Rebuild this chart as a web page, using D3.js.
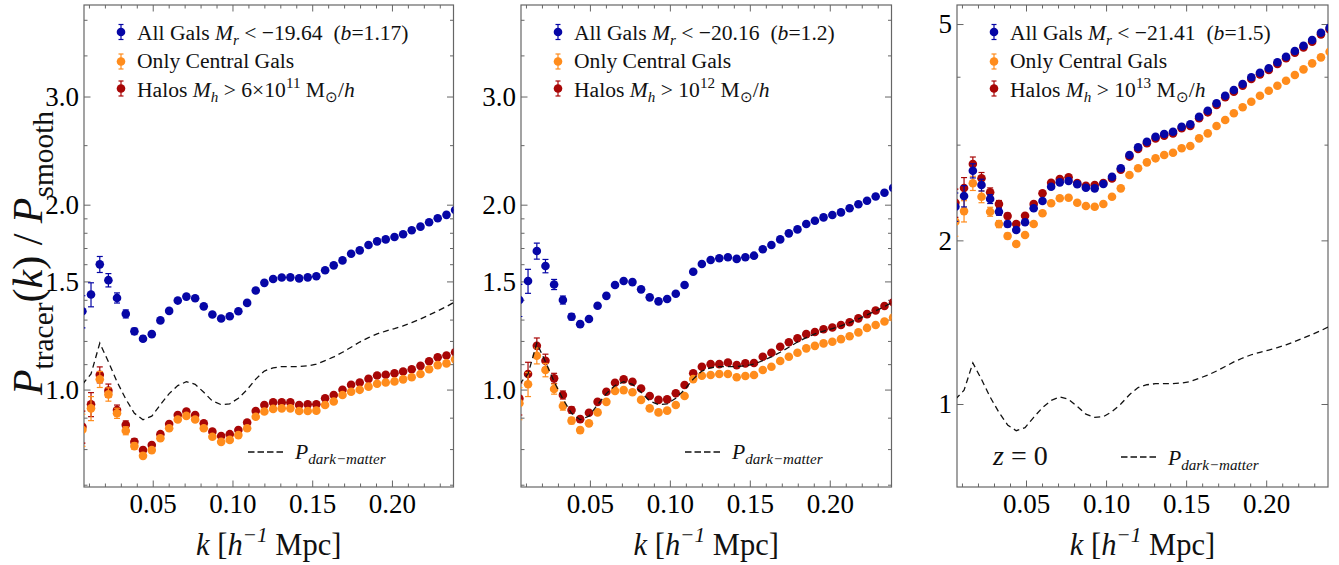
<!DOCTYPE html>
<html>
<head>
<meta charset="utf-8">
<script src="https://cdn.jsdelivr.net/npm/d3@7"></script>
<style>
  html, body { margin: 0; padding: 0; background: #fff; }
  svg { display: block; }
  text { white-space: pre; }
</style>
</head>
<body>
<svg id="chart" width="1339" height="565"></svg>
<script>
// ---- data -------------------------------------------------------------
// k bins [h/Mpc]
const kBins = [0.0059, 0.0113, 0.0168, 0.0222, 0.0276, 0.0331, 0.0385, 0.0439, 0.0494, 0.0548,
               0.0603, 0.0657, 0.0711, 0.0766, 0.0820, 0.0874, 0.0929, 0.0983, 0.1037, 0.1092,
               0.1146, 0.1200, 0.1255, 0.1309, 0.1363, 0.1418, 0.1472, 0.1526, 0.1581, 0.1635,
               0.1690, 0.1744, 0.1798, 0.1853, 0.1907, 0.1961, 0.2016, 0.2070, 0.2124, 0.2179,
               0.2233, 0.2287, 0.2342, 0.2396];

// relative 1-sigma error of the ratio in each k bin
const relErr = [0.060, 0.045, 0.030, 0.025, 0.019, 0.015, 0.012, 0.010, 0.008, 0.007,
                0.006, 0.005, 0.005, 0.004, 0.004, 0.004, 0.003, 0.003, 0.003, 0.003,
                0.003, 0.003, 0.002, 0.002, 0.002, 0.002, 0.002, 0.002, 0.002, 0.002,
                0.002, 0.002, 0.002, 0.002, 0.002, 0.002, 0.002, 0.002, 0.002, 0.002,
                0.002, 0.002, 0.002, 0.002];

// dark-matter ratio P_dm / P_smooth
const ratioDM = [1.02, 1.06, 1.19, 1.11, 1.03, 0.965, 0.915, 0.893, 0.905, 0.945,
                 0.985, 1.015, 1.03, 1.02, 0.99, 0.958, 0.945, 0.948, 0.968, 1.0,
                 1.04, 1.072, 1.085, 1.09, 1.09, 1.09, 1.093, 1.10, 1.115, 1.13,
                 1.15, 1.172, 1.195, 1.215, 1.232, 1.245, 1.257, 1.27, 1.285, 1.303,
                 1.323, 1.343, 1.365, 1.39];

// M_r < -19.64 sample
const allGals1 = [1.341, 1.428, 1.599, 1.507, 1.410, 1.328, 1.244, 1.210, 1.231, 1.296,
                  1.343, 1.396, 1.417, 1.408, 1.366, 1.325, 1.305, 1.316, 1.341, 1.384,
                  1.450, 1.492, 1.514, 1.522, 1.523, 1.517, 1.523, 1.529, 1.564, 1.593,
                  1.623, 1.664, 1.685, 1.719, 1.743, 1.756, 1.772, 1.790, 1.817, 1.842,
                  1.872, 1.901, 1.925, 1.960];
const centrals1 = [0.860, 0.932, 1.039, 0.982, 0.915, 0.857, 0.809, 0.780, 0.797, 0.833,
                   0.865, 0.894, 0.906, 0.894, 0.865, 0.838, 0.822, 0.828, 0.843, 0.865,
                   0.903, 0.921, 0.930, 0.932, 0.932, 0.923, 0.923, 0.924, 0.944, 0.956,
                   0.980, 0.992, 0.999, 1.011, 1.022, 1.027, 1.031, 1.039, 1.047, 1.060,
                   1.079, 1.096, 1.103, 1.120];
const halos1 = [0.870, 0.946, 1.057, 0.996, 0.926, 0.876, 0.822, 0.797, 0.812, 0.846,
                0.879, 0.909, 0.921, 0.909, 0.881, 0.854, 0.840, 0.846, 0.859, 0.884,
                0.923, 0.944, 0.953, 0.953, 0.953, 0.944, 0.946, 0.946, 0.968, 0.980,
                0.999, 1.018, 1.027, 1.041, 1.054, 1.057, 1.063, 1.070, 1.079, 1.093,
                1.112, 1.129, 1.136, 1.150];

// M_r < -20.16 sample
const allGals2 = [1.399, 1.502, 1.681, 1.589, 1.483, 1.399, 1.314, 1.278, 1.303, 1.369,
                  1.421, 1.480, 1.502, 1.496, 1.456, 1.413, 1.392, 1.404, 1.432, 1.480,
                  1.555, 1.601, 1.625, 1.636, 1.642, 1.632, 1.642, 1.652, 1.692, 1.719,
                  1.756, 1.796, 1.823, 1.860, 1.883, 1.907, 1.924, 1.943, 1.973, 2.003,
                  2.030, 2.062, 2.092, 2.130];
const centrals2 = [0.950, 1.020, 1.135, 1.076, 1.002, 0.940, 0.890, 0.859, 0.881, 0.918,
                   0.955, 0.995, 0.998, 0.990, 0.962, 0.932, 0.918, 0.924, 0.944, 0.976,
                   1.040, 1.053, 1.056, 1.060, 1.060, 1.047, 1.052, 1.056, 1.076, 1.089,
                   1.113, 1.131, 1.148, 1.167, 1.178, 1.189, 1.196, 1.208, 1.221, 1.239,
                   1.260, 1.274, 1.291, 1.310];
const halos2 = [0.967, 1.060, 1.178, 1.114, 1.043, 0.980, 0.926, 0.895, 0.917, 0.955,
                0.992, 1.026, 1.039, 1.030, 1.004, 0.976, 0.962, 0.964, 0.986, 1.017,
                1.063, 1.089, 1.100, 1.100, 1.107, 1.096, 1.103, 1.105, 1.131, 1.148,
                1.174, 1.194, 1.212, 1.231, 1.241, 1.254, 1.262, 1.274, 1.287, 1.306,
                1.327, 1.345, 1.368, 1.387];

// M_r < -21.41 sample
const allGals3 = [2.306, 2.413, 2.686, 2.528, 2.383, 2.258, 2.143, 2.090, 2.159, 2.291,
                  2.363, 2.510, 2.557, 2.572, 2.536, 2.500, 2.493, 2.539, 2.619, 2.714,
                  2.871, 2.966, 3.037, 3.102, 3.138, 3.169, 3.237, 3.270, 3.377, 3.464,
                  3.574, 3.691, 3.781, 3.878, 3.990, 4.068, 4.145, 4.252, 4.354, 4.460,
                  4.561, 4.672, 4.819, 4.922];
const centrals3 = [2.165, 2.264, 2.547, 2.406, 2.258, 2.143, 2.037, 1.969, 2.046, 2.143,
                   2.243, 2.340, 2.390, 2.396, 2.346, 2.313, 2.306, 2.333, 2.406, 2.493,
                   2.638, 2.714, 2.783, 2.831, 2.871, 2.899, 2.954, 2.983, 3.081, 3.147,
                   3.246, 3.330, 3.426, 3.514, 3.598, 3.691, 3.770, 3.850, 3.933, 4.029,
                   4.127, 4.233, 4.342, 4.447];
const halos3 = [2.345, 2.497, 2.764, 2.601, 2.451, 2.333, 2.217, 2.143, 2.220, 2.333,
                2.441, 2.553, 2.594, 2.612, 2.550, 2.521, 2.528, 2.550, 2.600, 2.697,
                2.852, 2.946, 3.017, 3.080, 3.117, 3.147, 3.215, 3.248, 3.354, 3.440,
                3.550, 3.666, 3.755, 3.852, 3.963, 4.040, 4.117, 4.223, 4.325, 4.430,
                4.530, 4.640, 4.786, 4.888];

// ticks
const xMajorTicks = [0.05, 0.10, 0.15, 0.20];
const xMinorTicks = [0.01, 0.02, 0.03, 0.04, 0.06, 0.07, 0.08, 0.09, 0.11, 0.12, 0.13, 0.14,
                     0.16, 0.17, 0.18, 0.19, 0.21, 0.22, 0.23];
const yMajorTicksLow = [1.0, 1.5, 2.0, 3.0];
const yMinorTicksLow = [0.7, 0.8, 0.9, 1.1, 1.2, 1.3, 1.4, 1.6, 1.7, 1.8, 1.9, 2.5, 3.5, 4.0];
const yMajorTicksHigh = [1, 2, 5];
const yMinorTicksHigh = [3, 4];

// ---- fonts: use the first installed Times-like face ---------------------
function pickFont(candidates) {
  const ctx = document.createElement("canvas").getContext("2d");
  const probe = "AaGgMmWwQq0123456789.()/";
  const width = f => { ctx.font = "40px " + f; return ctx.measureText(probe).width; };
  const mono = width("monospace"), sans = width("sans-serif");
  for (const c of candidates) {
    if (width(`"${c}", monospace`) !== mono || width(`"${c}", sans-serif`) !== sans) return c;
  }
  return null;
}
const serifFace = pickFont(["Liberation Serif", "Tinos", "Times New Roman", "Times",
                            "Nimbus Roman", "Nimbus Roman No9 L", "FreeSerif",
                            "DejaVu Serif", "Noto Serif", "Bitstream Vera Serif"]);
const FONT = serifFace ? `"${serifFace}", serif` : "serif";

// ---- layout -----------------------------------------------------------
const TOP = 5, BOTTOM = 487;
const xDomain = [0.0069, 0.2386];
const COLORS = { all: "#0606a6", cen: "#ff8c1c", halo: "#a80606" };
const FRAME = "#666666";

const panels = [
  { left: 84, right: 453.5, yDomain: [0.694, 4.228],
    yMajor: yMajorTicksLow, yMinor: yMinorTicksLow, yFmt: d3.format(".1f"),
    all: allGals1, cen: centrals1, halo: halos1,
    mag: "−19.64", bias: "1.17",
    haloMass: [{ t: " > 6×10" }, { t: "11", sup: 1 }],
    dmLegendY: 452, dmTextY: 459, redshift: false },
  { left: 521, right: 891.5, yDomain: [0.694, 4.228],
    yMajor: yMajorTicksLow, yMinor: yMinorTicksLow, yFmt: d3.format(".1f"),
    all: allGals2, cen: centrals2, halo: halos2,
    mag: "−20.16", bias: "1.2",
    haloMass: [{ t: " > 10" }, { t: "12", sup: 1 }],
    dmLegendY: 452, dmTextY: 459, redshift: false },
  { left: 957, right: 1328, yDomain: [0.7036, 5.42],
    yMajor: yMajorTicksHigh, yMinor: yMinorTicksHigh, yFmt: d3.format("d"),
    all: allGals3, cen: centrals3, halo: halos3,
    mag: "−21.41", bias: "1.5",
    haloMass: [{ t: " > 10" }, { t: "13", sup: 1 }],
    dmLegendY: 457, dmTextY: 465, redshift: true }
];

const svg = d3.select("#chart").attr("font-family", FONT).style("font-family", FONT);

// text made of roman / italic runs with sub- and superscripts
function richText(textSel, segs, size) {
  textSel.attr("font-family", FONT).style("font-family", FONT);
  let shift = 0;
  segs.forEach(s => {
    const small = s.sub || s.sup;
    const target = s.sub ? size * 0.25 : s.sup ? -size * 0.42 : 0;
    textSel.append("tspan")
      .attr("dy", (target - shift).toFixed(2))
      .style("font-size", (small ? size * 0.7 : size) + "px")
      .style("font-style", s.it ? "italic" : "normal")
      .text(s.t);
    shift = target;
  });
  return textSel;
}

function styleAxis(sel, labelSize) {
  sel.attr("font-family", FONT);
  sel.select(".domain").remove();
  sel.selectAll(".tick line").attr("stroke", FRAME).attr("stroke-width", 1);
  sel.selectAll(".tick text").attr("fill", "#000")
    .style("font-size", labelSize + "px")
    .style("font-family", FONT);
}

panels.forEach((p, pi) => {
  const x = d3.scaleLinear().domain(xDomain).range([p.left, p.right]);
  const y = d3.scaleLog().domain(p.yDomain).range([BOTTOM, TOP]);
  const g = svg.append("g");

  const clipId = "plot-clip-" + pi;
  svg.append("clipPath").attr("id", clipId)
    .append("rect")
    .attr("x", p.left).attr("y", TOP)
    .attr("width", p.right - p.left).attr("height", BOTTOM - TOP);

  // axes: ticks point inwards on all four sides
  const none = () => "";
  g.append("g").attr("transform", `translate(0,${BOTTOM})`)
    .call(d3.axisBottom(x).tickValues(xMinorTicks).tickSize(-3.5).tickFormat(none))
    .call(s => styleAxis(s, 27));
  g.append("g").attr("transform", `translate(0,${BOTTOM})`)
    .call(d3.axisBottom(x).tickValues(xMajorTicks).tickSize(-6.5).tickPadding(7).tickFormat(d3.format(".2f")))
    .call(s => styleAxis(s, 27));
  g.append("g").attr("transform", `translate(0,${TOP})`)
    .call(d3.axisTop(x).tickValues(xMinorTicks).tickSize(-3.5).tickFormat(none))
    .call(s => styleAxis(s, 27));
  g.append("g").attr("transform", `translate(0,${TOP})`)
    .call(d3.axisTop(x).tickValues(xMajorTicks).tickSize(-6.5).tickFormat(none))
    .call(s => styleAxis(s, 27));

  g.append("g").attr("transform", `translate(${p.left},0)`)
    .call(d3.axisLeft(y).tickValues(p.yMinor).tickSize(-3.5).tickFormat(none))
    .call(s => styleAxis(s, 27));
  g.append("g").attr("transform", `translate(${p.left},0)`)
    .call(d3.axisLeft(y).tickValues(p.yMajor).tickSize(-6.5).tickPadding(5).tickFormat(p.yFmt))
    .call(s => styleAxis(s, 27));
  g.append("g").attr("transform", `translate(${p.right},0)`)
    .call(d3.axisRight(y).tickValues(p.yMinor).tickSize(-3.5).tickFormat(none))
    .call(s => styleAxis(s, 27));
  g.append("g").attr("transform", `translate(${p.right},0)`)
    .call(d3.axisRight(y).tickValues(p.yMajor).tickSize(-6.5).tickFormat(none))
    .call(s => styleAxis(s, 27));

  // frame
  g.append("rect")
    .attr("x", p.left).attr("y", TOP)
    .attr("width", p.right - p.left).attr("height", BOTTOM - TOP)
    .attr("fill", "none").attr("stroke", FRAME).attr("stroke-width", 1.2);

  // data
  const plot = g.append("g").attr("clip-path", `url(#${clipId})`);

  const drawSeries = (values, color) => {
    const pts = values.map((v, i) => ({ k: kBins[i], v, e: relErr[i] }));
    const bars = plot.append("g").attr("stroke", color).attr("stroke-width", 1.2);
    pts.forEach(d => {
      const y0 = y(d.v * (1 - d.e)), y1 = y(d.v * (1 + d.e)), cx = x(d.k);
      bars.append("line").attr("x1", cx).attr("x2", cx).attr("y1", y0).attr("y2", y1);
      bars.append("line").attr("x1", cx - 3).attr("x2", cx + 3).attr("y1", y0).attr("y2", y0);
      bars.append("line").attr("x1", cx - 3).attr("x2", cx + 3).attr("y1", y1).attr("y2", y1);
    });
    plot.append("g").selectAll("circle").data(pts).join("circle")
      .attr("cx", d => x(d.k)).attr("cy", d => y(d.v))
      .attr("r", 4.3).attr("fill", color);
  };
  drawSeries(p.halo, COLORS.halo);
  drawSeries(p.cen, COLORS.cen);
  drawSeries(p.all, COLORS.all);

  plot.append("path")
    .datum(ratioDM.map((v, i) => [kBins[i], v]))
    .attr("fill", "none").attr("stroke", "#111").attr("stroke-width", 1.3)
    .attr("stroke-dasharray", "6,4")
    .attr("d", d3.line().x(d => x(d[0])).y(d => y(d[1])));

  // legend
  const rows = [
    { color: COLORS.all, my: 32, ty: 39.5,
      segs: [{ t: "All Gals " }, { t: "M", it: 1 }, { t: "r", it: 1, sub: 1 },
             { t: " < " + p.mag + "  (" }, { t: "b", it: 1 }, { t: "=" + p.bias + ")" }] },
    { color: COLORS.cen, my: 61.5, ty: 68.3,
      segs: [{ t: "Only Central Gals" }] },
    { color: COLORS.halo, my: 88.5, ty: 96.7,
      segs: [{ t: "Halos " }, { t: "M", it: 1 }, { t: "h", it: 1, sub: 1 }]
        .concat(p.haloMass)
        .concat([{ t: " M" }, { t: "⊙", sub: 1 }, { t: "/" }, { t: "h", it: 1 }]) }
  ];
  const lg = g.append("g");
  rows.forEach(r => {
    const mx = p.left + 37;
    const row = lg.append("g").attr("stroke", r.color).attr("stroke-width", 1.2);
    row.append("line").attr("x1", mx).attr("x2", mx).attr("y1", r.my - 7.5).attr("y2", r.my + 7.5);
    row.append("line").attr("x1", mx - 2.5).attr("x2", mx + 2.5).attr("y1", r.my - 7.5).attr("y2", r.my - 7.5);
    row.append("line").attr("x1", mx - 2.5).attr("x2", mx + 2.5).attr("y1", r.my + 7.5).attr("y2", r.my + 7.5);
    lg.append("circle").attr("cx", mx).attr("cy", r.my).attr("r", 4.3).attr("fill", r.color);
    richText(lg.append("text").attr("x", p.left + 53).attr("y", r.ty).attr("fill", "#111"), r.segs, 21.6);
  });

  // dark-matter legend entry
  lg.append("line")
    .attr("x1", p.left + 164).attr("x2", p.left + 199)
    .attr("y1", p.dmLegendY).attr("y2", p.dmLegendY)
    .attr("stroke", "#111").attr("stroke-width", 1.3).attr("stroke-dasharray", "6.5,3");
  richText(lg.append("text").attr("x", p.left + 211).attr("y", p.dmTextY).attr("fill", "#111"),
    [{ t: "P", it: 1 }, { t: "dark−matter", it: 1, sub: 1 }], 21.6);

  if (p.redshift) {
    richText(lg.append("text").attr("x", p.left + 36).attr("y", 465).attr("fill", "#111"),
      [{ t: "z", it: 1 }, { t: " = 0" }], 28);
  }

  // x-axis title
  richText(g.append("text")
      .attr("x", (p.left + p.right) / 2).attr("y", 555)
      .attr("text-anchor", "middle").attr("fill", "#111"),
    [{ t: "k", it: 1 }, { t: " [" }, { t: "h", it: 1 }, { t: "−1", it: 1, sup: 1 }, { t: " Mpc]" }], 30.5);
});

// y-axis title
richText(svg.append("text")
    .attr("transform", "translate(42,253) rotate(-90)")
    .attr("text-anchor", "middle").attr("fill", "#111"),
  [{ t: "P", it: 1 }, { t: "tracer", sub: 1 }, { t: "(" }, { t: "k", it: 1 }, { t: ") / " },
   { t: "P", it: 1 }, { t: "smooth", sub: 1 }], 42);
</script>
</body>
</html>
